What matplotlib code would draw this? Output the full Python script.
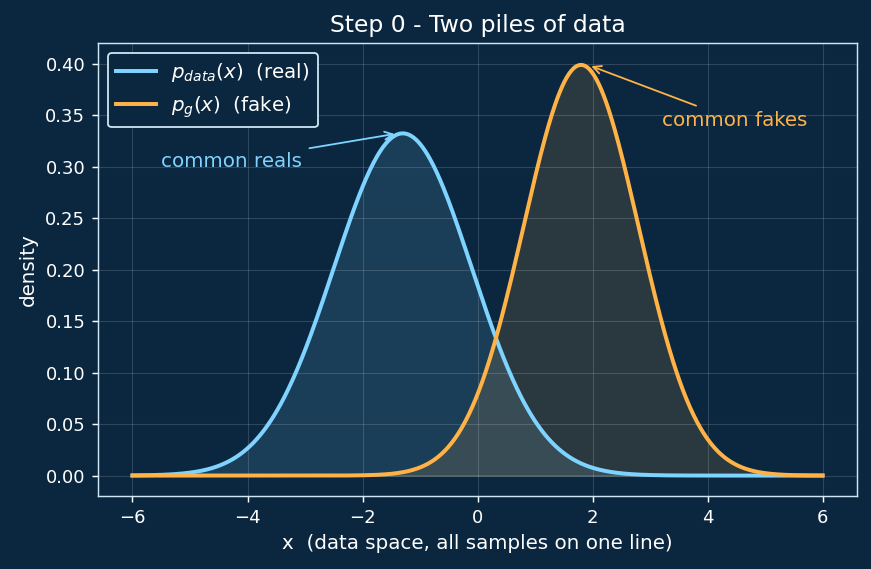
import numpy as np
import matplotlib
matplotlib.use("Agg")
import matplotlib.pyplot as plt

# parameters of the two densities
real_mean, real_std = -1.3, 1.2
fake_mean, fake_std = 1.8, 1.0
x_range = (-6, 6)

BG = "#0b2740"
REAL = "#7fd3ff"
FAKE = "#ffb347"
FG = "#ffffff"
EDGE = "#cfe6f5"


def gauss(x, mu, sd):
    return np.exp(-0.5 * ((x - mu) / sd) ** 2) / (sd * np.sqrt(2 * np.pi))


x = np.linspace(x_range[0], x_range[1], 600)
p_data = gauss(x, real_mean, real_std)
p_g = gauss(x, fake_mean, fake_std)

fig, ax = plt.subplots(figsize=(6.7, 4.377), dpi=130)
fig.patch.set_facecolor(BG)
ax.set_facecolor(BG)

ax.plot(x, p_data, color=REAL, lw=2.2, label=r"$p_{data}(x)$  (real)")
ax.fill_between(x, p_data, color=REAL, alpha=0.13)
ax.plot(x, p_g, color=FAKE, lw=2.2, label=r"$p_g(x)$  (fake)")
ax.fill_between(x, p_g, color=FAKE, alpha=0.13)

ax.annotate("common reals", xy=(real_mean - 0.08, p_data.max()), xytext=(-5.5, 0.300),
            color=REAL, fontsize=11,
            arrowprops=dict(arrowstyle="->", color=REAL, lw=1))
ax.annotate("common fakes", xy=(fake_mean + 0.12, p_g.max()), xytext=(3.2, 0.340),
            color=FAKE, fontsize=11,
            arrowprops=dict(arrowstyle="->", color=FAKE, lw=1))

ax.set_ylim(-0.02, 0.42)
ax.set_title("Step 0 - Two piles of data", color=FG, fontsize=13)
ax.set_xlabel("x  (data space, all samples on one line)", color=FG, fontsize=11)
ax.set_ylabel("density", color=FG, fontsize=11)
ax.tick_params(colors=FG, labelsize=10)
for s in ax.spines.values():
    s.set_color(EDGE)
ax.grid(True, color="white", alpha=0.15, lw=0.6)

leg = ax.legend(loc="upper left", facecolor=BG, edgecolor=EDGE, framealpha=1, fontsize=11)
for t in leg.get_texts():
    t.set_color(FG)

fig.subplots_adjust(left=0.1125, right=0.984, top=0.924, bottom=0.128)
fig.savefig("out.png", facecolor=BG)
